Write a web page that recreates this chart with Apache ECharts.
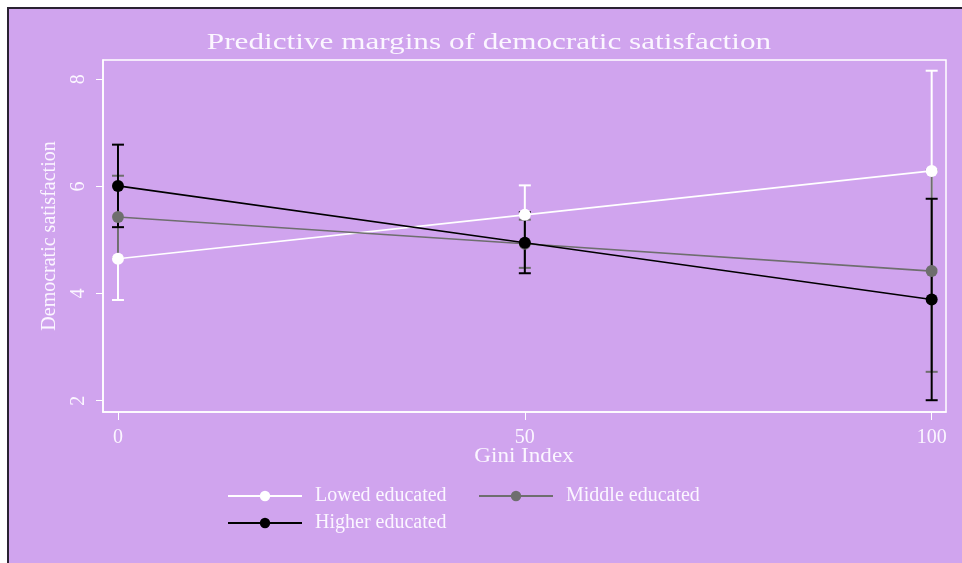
<!DOCTYPE html>
<html>
<head>
  <meta charset="utf-8">
  <title>margins</title>
  <script src="https://cdn.jsdelivr.net/npm/echarts@6/dist/echarts.min.js"></script>
  <style>
    body { margin: 0; background: #fff; }
  </style>
</head>
<body>
<div id="main" style="width: 962px; height: 563px"></div>
<script type="text/javascript">
// Gini index values on the x axis
var giniX = [0, 50, 100];
var xTicks = [0, 50, 100];
var yTicks = [2, 4, 6, 8];

// predicted margins and half-width of the confidence interval
var lowMargin = [4.65, 5.47, 6.29];
var lowCI = [0.77, 0.55, 1.87];
var midMargin = [5.43, 4.93, 4.42];
var midCI = [0.77, 0.45, 1.88];
var highMargin = [6.01, 4.95, 3.89];
var highCI = [0.77, 0.57, 1.88];

var names = ['Lowed educated', 'Middle educated', 'Higher educated'];
var colors = ['#ffffff', '#6e6e6e', '#000000'];
var serif = 'Liberation Serif';
var txt = '#fbf6ff';

function pts(vals) {
  var out = [];
  for (var i = 0; i < giniX.length; i++) out.push([giniX[i], vals[i]]);
  return out;
}
function bars(vals, ci) {
  var out = [];
  for (var i = 0; i < giniX.length; i++) out.push([giniX[i], vals[i], ci[i]]);
  return out;
}

function errSeries(name, data, color, z) {
  return {
    name: name,
    type: 'custom',
    z: z,
    data: data,
    encode: { x: 0, y: 1 },
    renderItem: function (params, api) {
      var x = api.value(0), y = api.value(1), e = api.value(2);
      var top = api.coord([x, y + e]);
      var bot = api.coord([x, y - e]);
      var hw = 6;
      var st = { stroke: color, lineWidth: 2 };
      return {
        type: 'group',
        children: [
          { type: 'line', shape: { x1: top[0], y1: top[1], x2: bot[0], y2: bot[1] }, style: st },
          { type: 'line', shape: { x1: top[0] - hw, y1: top[1], x2: top[0] + hw, y2: top[1] }, style: st },
          { type: 'line', shape: { x1: bot[0] - hw, y1: bot[1], x2: bot[0] + hw, y2: bot[1] }, style: st }
        ]
      };
    }
  };
}

function lineSeries(name, data, color, z) {
  return {
    name: name,
    type: 'line',
    z: z,
    data: data,
    symbol: 'circle',
    symbolSize: 12,
    lineStyle: { color: color, width: 1.6 },
    itemStyle: { color: color },
    emphasis: { disabled: true },
    animation: false
  };
}

function legendAt(name, left, top) {
  return {
    data: [name],
    left: left,
    top: top,
    itemWidth: 74,
    itemHeight: 13,
    selectedMode: false,
    textStyle: { fontFamily: serif, fontSize: 20, color: txt, padding: [0, 0, 0, 8] }
  };
}

var myChart = echarts.init(document.getElementById('main'));
myChart.setOption({
  backgroundColor: '#d0a4ee',
  animation: false,
  graphic: [
    { type: 'rect', shape: { x: 0, y: 0, width: 962, height: 7 }, style: { fill: '#ffffff' } },
    { type: 'rect', shape: { x: 0, y: 0, width: 7, height: 563 }, style: { fill: '#ffffff' } },
    { type: 'rect', shape: { x: 7, y: 7, width: 955, height: 2 }, style: { fill: '#2a2232' } },
    { type: 'rect', shape: { x: 7, y: 7, width: 2, height: 556 }, style: { fill: '#2a2232' } },
    {
      type: 'text', x: 489, y: 43, scaleX: 1.3,
      style: {
        text: 'Predictive margins of democratic satisfaction',
        fontFamily: serif, fontSize: 24, fill: txt,
        align: 'center', verticalAlign: 'middle'
      }
    },
    {
      type: 'text', x: 524, y: 456, scaleX: 1.1,
      style: {
        text: 'Gini Index',
        fontFamily: serif, fontSize: 21, fill: txt,
        align: 'center', verticalAlign: 'middle'
      }
    }
  ],
  legend: [
    legendAt(names[0], 222, 481),
    legendAt(names[1], 473, 481),
    legendAt(names[2], 222, 508)
  ],
  grid: {
    left: 103, right: 16, top: 60, bottom: 151,
    show: true, borderColor: '#ffffff', borderWidth: 1.5
  },
  xAxis: {
    type: 'value',
    min: -1.84,
    max: 101.76,
    axisLine: { show: true, onZero: false, lineStyle: { color: '#ffffff', width: 1.5 } },
    axisTick: { show: true, length: 8, customValues: xTicks, lineStyle: { color: '#ffffff' } },
    axisLabel: { customValues: xTicks, margin: 16, fontFamily: serif, fontSize: 20, color: txt },
    splitLine: { show: false }
  },
  yAxis: {
    type: 'value',
    min: 1.79,
    max: 8.36,
    name: 'Democratic satisfaction',
    nameLocation: 'middle',
    nameGap: 43,
    nameTextStyle: { fontFamily: serif, fontSize: 20, color: txt },
    axisLine: { show: true, onZero: false, lineStyle: { color: '#ffffff', width: 1.5 } },
    axisTick: { show: true, length: 7, customValues: yTicks, lineStyle: { color: '#ffffff' } },
    axisLabel: { customValues: yTicks, rotate: 90, margin: 14, fontFamily: serif, fontSize: 20, color: txt },
    splitLine: { show: false }
  },
  series: [
    errSeries('low CI', bars(lowMargin, lowCI), colors[0], 2),
    errSeries('mid CI', bars(midMargin, midCI), colors[1], 3),
    errSeries('high CI', bars(highMargin, highCI), colors[2], 4),
    lineSeries(names[0], pts(lowMargin), colors[0], 5),
    lineSeries(names[1], pts(midMargin), colors[1], 6),
    lineSeries(names[2], pts(highMargin), colors[2], 7)
  ]
});
</script>
</body>
</html>
